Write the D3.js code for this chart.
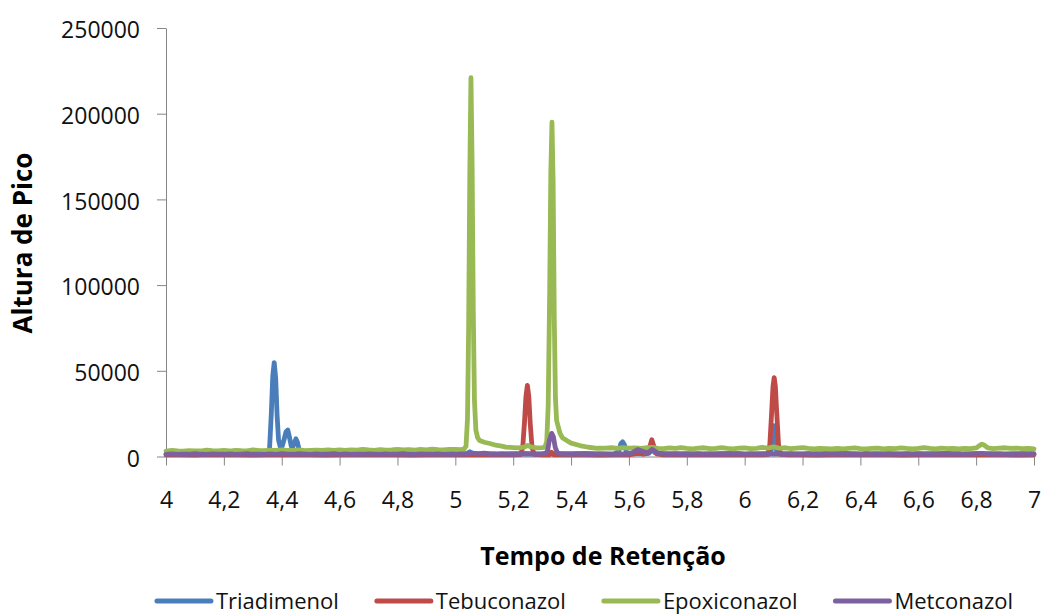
<!DOCTYPE html>
<html>
<head>
<meta charset="utf-8">
<script src="https://cdn.jsdelivr.net/npm/d3@7"></script>
<style>
  body { margin: 0; background: #fff; }
  svg { display: block; }
  text { font-family: "Open Sans", Lato, sans-serif; }
</style>
</head>
<body>
<svg id="chart" width="1043" height="615"></svg>
<script>
// Chromatogram traces: [retention time (min), peak height]
const triadimenol = [
  [4.00,1600],[4.05,1800],[4.10,1500],[4.15,1900],[4.20,1600],[4.25,1700],[4.29,1800],[4.30,2600],[4.31,1700],
  [4.352,1700],[4.358,5000],[4.364,25000],[4.369,47000],[4.374,54800],[4.379,46000],[4.384,24000],[4.389,9500],
  [4.395,5600],[4.402,6200],[4.409,10500],[4.415,14500],[4.421,15500],[4.427,11000],[4.433,6000],[4.438,5400],
  [4.444,8000],[4.449,10300],[4.454,8500],[4.460,4000],[4.467,1900],
  [4.50,1600],[4.55,1700],[4.60,1500],[4.65,1800],[4.70,1600],[4.75,1500],[4.80,1700],[4.85,1600],[4.90,1500],
  [4.95,1800],[5.00,1600],[5.04,1700],[5.05,2800],[5.06,1700],[5.10,1600],[5.15,1500],[5.20,1700],[5.25,1600],
  [5.30,1500],[5.35,1700],[5.40,1600],[5.45,1800],[5.50,1500],[5.55,1700],[5.565,3000],[5.572,7500],[5.578,8600],
  [5.584,7000],[5.592,2500],[5.60,1700],[5.65,1600],[5.67,2000],[5.68,4200],[5.69,2200],[5.72,1600],[5.80,1700],
  [5.85,1500],[5.90,1600],[5.95,1800],[6.00,1500],[6.05,1700],[6.090,1700],[6.096,8000],[6.101,18000],[6.106,8500],
  [6.112,1700],[6.15,1600],[6.20,1500],[6.25,1700],[6.30,1600],[6.35,1800],[6.40,1500],[6.45,1700],[6.50,1600],
  [6.55,1500],[6.60,1700],[6.65,1600],[6.70,1800],[6.75,1500],[6.80,1700],[6.85,1600],[6.90,1500],[6.95,1700],[7.00,1600]
];

const tebuconazol = [
  [4.00,900],[4.05,1000],[4.10,800],[4.15,1100],[4.20,900],[4.25,1000],[4.30,800],[4.35,1000],[4.40,900],
  [4.45,1100],[4.50,900],[4.55,800],[4.60,1000],[4.65,900],[4.70,1100],[4.75,900],[4.80,1000],[4.85,800],
  [4.90,1000],[4.95,900],[5.00,1000],[5.05,900],[5.10,1100],[5.15,900],[5.20,1000],
  [5.226,1100],[5.233,5500],[5.239,20000],[5.244,35000],[5.249,41500],[5.254,35000],[5.259,19000],[5.265,5500],[5.272,1200],
  [5.30,900],[5.325,1000],[5.332,2500],[5.34,1000],[5.40,900],[5.45,1000],[5.50,800],[5.55,1000],[5.60,900],
  [5.62,1500],[5.635,2200],[5.65,1400],[5.665,1800],[5.672,5500],[5.679,9800],[5.686,6000],[5.695,1600],
  [5.72,900],[5.80,1000],[5.85,900],[5.90,1100],[5.95,900],[6.00,1000],[6.05,900],
  [6.080,1100],[6.087,7000],[6.093,25000],[6.098,41000],[6.102,46000],[6.106,41000],[6.111,25000],[6.117,7000],[6.124,1200],
  [6.15,900],[6.20,1000],[6.25,800],[6.30,1000],[6.35,900],[6.40,1100],[6.45,900],[6.50,1000],[6.55,800],
  [6.60,1000],[6.65,900],[6.70,1100],[6.75,900],[6.80,1000],[6.85,900],[6.90,1000],[6.95,800],[7.00,1000]
];

const epoxiconazol = [
  [4.00,3200],[4.02,3600],[4.04,3300],[4.06,3100],[4.08,3400],[4.10,3300],[4.12,3200],[4.14,3700],[4.16,3400],
  [4.18,3300],[4.20,3500],[4.22,3200],[4.24,3600],[4.26,3400],[4.28,3300],[4.30,3800],[4.32,3500],[4.34,3400],
  [4.36,3700],[4.38,3500],[4.40,3900],[4.42,3600],[4.44,3500],[4.46,3800],[4.48,3400],[4.50,3600],[4.52,3700],
  [4.54,3500],[4.56,3900],[4.58,3600],[4.60,3800],[4.62,3500],[4.64,3900],[4.66,3700],[4.68,4100],[4.70,3800],
  [4.72,3600],[4.74,4000],[4.76,3700],[4.78,3900],[4.80,4200],[4.82,3800],[4.84,4000],[4.86,3700],[4.88,4100],
  [4.90,3900],[4.92,4300],[4.94,4000],[4.96,3800],[4.98,4200],[5.00,4100],[5.02,4000],
  [5.030,4300],[5.037,6000],[5.042,22000],[5.046,75000],[5.050,165000],[5.054,221000],[5.058,170000],[5.062,85000],
  [5.066,33000],[5.071,15500],[5.077,11000],[5.084,9300],[5.10,8300],[5.119,7600],[5.14,6600],[5.16,6000],
  [5.175,5500],[5.20,5200],[5.22,5000],[5.24,5600],[5.25,6500],[5.26,5700],[5.28,5000],[5.30,5200],
  [5.310,5500],[5.316,9000],[5.321,30000],[5.326,95000],[5.330,165000],[5.334,195000],[5.338,160000],[5.342,80000],
  [5.346,34000],[5.350,21000],[5.362,13400],[5.37,11000],[5.385,9300],[5.40,7800],[5.43,6400],[5.46,5400],
  [5.49,4800],[5.52,4900],[5.54,5100],[5.56,4800],[5.58,5200],[5.60,4900],[5.62,5000],[5.64,4700],[5.66,5100],
  [5.68,5300],[5.70,4800],[5.72,4600],[5.74,5000],[5.76,4700],[5.78,5200],[5.80,4800],[5.82,4500],[5.84,4900],
  [5.86,5100],[5.88,4600],[5.90,4800],[5.92,5200],[5.94,4700],[5.96,4500],[5.98,4900],[6.00,5000],[6.02,4600],
  [6.04,4800],[6.06,5300],[6.08,4900],[6.10,5600],[6.12,4800],[6.14,5100],[6.16,4600],[6.18,4900],[6.20,5200],
  [6.22,4700],[6.24,4500],[6.26,4800],[6.28,4600],[6.30,4400],[6.32,4700],[6.34,4500],[6.36,4800],[6.38,5000],
  [6.40,4600],[6.42,4400],[6.44,4700],[6.46,4900],[6.48,4500],[6.50,4800],[6.52,4600],[6.54,5000],[6.56,4700],
  [6.58,4500],[6.60,4800],[6.62,5200],[6.64,4700],[6.66,4500],[6.68,4900],[6.70,4600],[6.72,4800],[6.74,4500],
  [6.76,4700],[6.78,4600],[6.80,5000],[6.81,6200],[6.82,7200],[6.83,6400],[6.84,5100],[6.86,4600],[6.88,4900],
  [6.90,5100],[6.92,4700],[6.94,4900],[6.96,4600],[6.98,4800],[7.00,4500]
];

const metconazol = [
  [4.00,1300],[4.02,1500],[4.04,1200],[4.06,1400],[4.08,1300],[4.10,1600],[4.12,1300],[4.14,1200],[4.16,1500],
  [4.18,1400],[4.20,1300],[4.22,1500],[4.24,1200],[4.26,1400],[4.28,1600],[4.30,1300],[4.32,1400],[4.34,1200],
  [4.36,1500],[4.38,1300],[4.40,1700],[4.42,1400],[4.44,1300],[4.46,1600],[4.48,1400],[4.50,1200],[4.52,1500],
  [4.54,1300],[4.56,1400],[4.58,1600],[4.60,1300],[4.62,1500],[4.64,1200],[4.66,1400],[4.68,1300],[4.70,1500],
  [4.72,1400],[4.74,1200],[4.76,1500],[4.78,1300],[4.80,1400],[4.82,1600],[4.84,1300],[4.86,1200],[4.88,1500],
  [4.90,1400],[4.92,1300],[4.94,1500],[4.96,1200],[4.98,1400],[5.00,1300],[5.02,1500],[5.04,1400],[5.06,1900],
  [5.08,1500],[5.10,2000],[5.12,1400],[5.14,1300],[5.16,1500],[5.18,1200],[5.20,1400],[5.22,1300],[5.24,1600],
  [5.26,1400],[5.28,1300],[5.30,1500],[5.312,1800],[5.319,3500],[5.325,9500],[5.333,13500],[5.339,11500],
  [5.345,5500],[5.352,2400],[5.36,1600],[5.38,1400],[5.40,1300],[5.42,1500],[5.44,1200],[5.46,1400],[5.48,1300],
  [5.50,1500],[5.52,1400],[5.54,1200],[5.56,1300],[5.58,1500],[5.60,1400],[5.615,2600],[5.63,4000],[5.645,3200],
  [5.66,2200],[5.672,3000],[5.68,4200],[5.69,3200],[5.70,1800],[5.72,1400],[5.74,1300],[5.76,1500],[5.78,1200],
  [5.80,1400],[5.82,1300],[5.84,1600],[5.86,1300],[5.88,1400],[5.90,1200],[5.92,1500],[5.94,1300],[5.96,1400],
  [5.98,1600],[6.00,1300],[6.02,1500],[6.04,1200],[6.06,1400],[6.08,1300],[6.10,1500],[6.12,1400],[6.14,1200],
  [6.16,1500],[6.18,1300],[6.20,1400],[6.22,1600],[6.24,1300],[6.26,1200],[6.28,1500],[6.30,1400],[6.32,1300],
  [6.34,1500],[6.36,1200],[6.38,1400],[6.40,1300],[6.42,1600],[6.44,1300],[6.46,1400],[6.48,1200],[6.50,1500],
  [6.52,1300],[6.54,1400],[6.56,1600],[6.58,1300],[6.60,1500],[6.62,1200],[6.64,1400],[6.66,1300],[6.68,1500],
  [6.70,1400],[6.72,1200],[6.74,1500],[6.76,1300],[6.78,1400],[6.80,1600],[6.82,1800],[6.84,1400],[6.86,1300],
  [6.88,1500],[6.90,1200],[6.92,1400],[6.94,1300],[6.96,1500],[6.98,1300],[7.00,1400]
];

const seriesNames = ["Triadimenol", "Tebuconazol", "Epoxiconazol", "Metconazol"];
const seriesColors = ["#4A7EBB", "#BE4B48", "#98B954", "#7D60A0"];
const seriesData = [triadimenol, tebuconazol, epoxiconazol, metconazol];

const xTicks = [4, 4.2, 4.4, 4.6, 4.8, 5, 5.2, 5.4, 5.6, 5.8, 6, 6.2, 6.4, 6.6, 6.8, 7];
const yTicks = [0, 50000, 100000, 150000, 200000, 250000];

const xTitle = "Tempo de Retenção";
const yTitle = "Altura de Pico";

const svg = d3.select("#chart");
const axisColor = "#868686";
const fontFamily = "'Open Sans', Lato, sans-serif";

const x = d3.scaleLinear().domain([4, 7]).range([166, 1034]);
const y = d3.scaleLinear().domain([0, 250000]).range([456.5, 28]);

// Y axis
const yAxis = svg.append("g")
  .attr("transform", "translate(166,0)")
  .call(d3.axisLeft(y).tickValues(yTicks).tickSizeInner(9).tickSizeOuter(0)
    .tickPadding(17).tickFormat(d3.format("d")));

// X axis (comma as decimal separator)
const xAxis = svg.append("g")
  .attr("transform", "translate(0,456.5)")
  .call(d3.axisBottom(x).tickValues(xTicks).tickSizeInner(9).tickSizeOuter(0)
    .tickPadding(26).tickFormat(d => String(+d.toFixed(1)).replace(".", ",")));

[yAxis, xAxis].forEach(g => {
  g.select(".domain").attr("stroke", axisColor).attr("stroke-width", 1);
  g.selectAll(".tick line").attr("stroke", axisColor).attr("stroke-width", 1);
  g.selectAll(".tick text")
    .attr("fill", "#111")
    .style("font-family", fontFamily)
    .style("font-size", "23px");
});
yAxis.selectAll(".tick text").attr("dy", "0.42em");

// Traces, drawn in series order so the last sits on top
const line = d3.line().x(d => x(d[0])).y(d => y(d[1]));
svg.append("g")
  .selectAll("path")
  .data(seriesData)
  .join("path")
  .attr("d", line)
  .attr("fill", "none")
  .attr("stroke", (d, i) => seriesColors[i])
  .attr("stroke-width", 4.8)
  .attr("stroke-linejoin", "round")
  .attr("stroke-linecap", "round");

// Axis titles
svg.append("text")
  .attr("x", 603).attr("y", 565)
  .attr("text-anchor", "middle")
  .style("font-size", "25px").style("font-weight", "bold")
  .attr("fill", "#000")
  .text(xTitle);

svg.append("text")
  .attr("transform", "translate(32,243) rotate(-90)")
  .attr("text-anchor", "middle")
  .style("font-size", "26px").style("font-weight", "bold")
  .attr("fill", "#000")
  .text(yTitle);

// Legend
const legend = svg.append("g").attr("transform", "translate(0,601)");
const swatchLen = 54, swatchGap = 5, itemGap = 38;
const items = legend.selectAll("g").data(seriesNames).join("g");
items.append("line")
  .attr("x1", 0).attr("x2", swatchLen).attr("y1", 0).attr("y2", 0)
  .attr("stroke", (d, i) => seriesColors[i]).attr("stroke-width", 5)
  .attr("stroke-linecap", "round");
items.append("text")
  .attr("x", swatchLen + swatchGap).attr("dy", "0.36em")
  .style("font-size", "22px").attr("fill", "#111")
  .text(d => d);
const widths = [];
items.each(function() { widths.push(this.getBBox().width); });
const total = d3.sum(widths) + itemGap * (widths.length - 1);
let cursor = 585 - total / 2;
items.attr("transform", (d, i) => {
  const t = `translate(${cursor},0)`;
  cursor += widths[i] + itemGap;
  return t;
});
</script>
</body>
</html>
